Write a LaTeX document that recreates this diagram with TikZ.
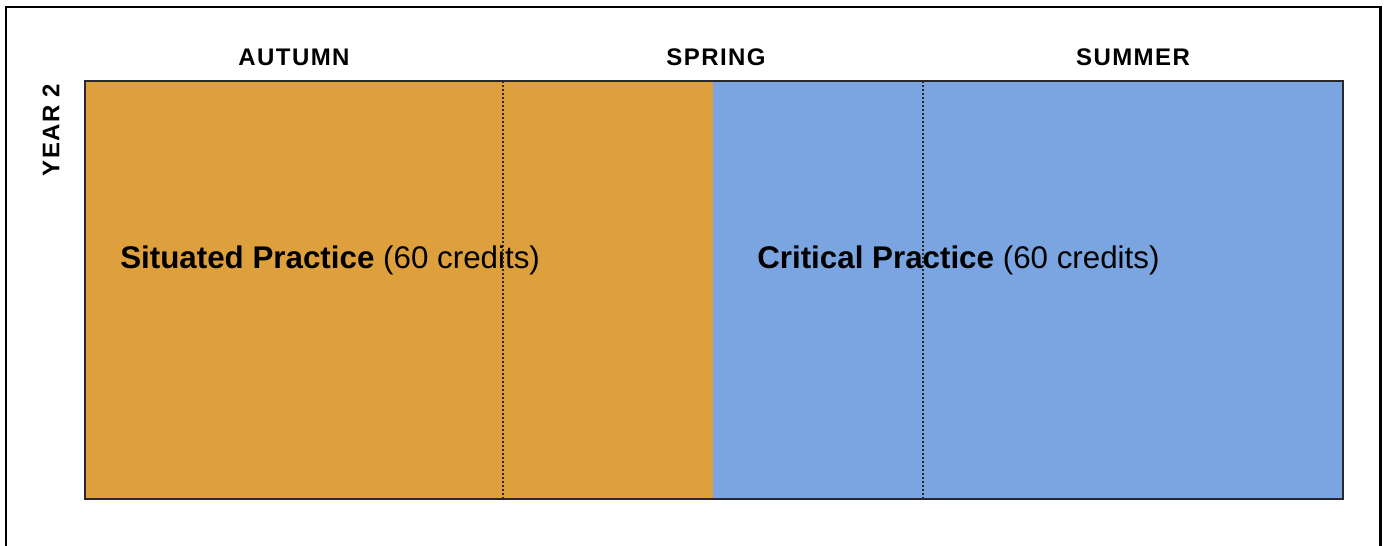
\documentclass[tikz,border=0pt]{standalone}
\usepackage{fontspec}
\setmainfont{Liberation Sans}
\definecolor{orangefill}{RGB}{221,160,61}
\definecolor{bluefill}{RGB}{122,165,224}
\definecolor{edgec}{RGB}{40,40,45}
\begin{document}
\begin{tikzpicture}[x=0.75pt,y=-0.75pt,
  block/.style={draw=none, inner sep=0pt, outer sep=0pt, anchor=north west, minimum height=313.5pt},
  season/.style={font=\fontsize{18}{21}\selectfont\bfseries\addfontfeature{LetterSpace=6}, inner sep=0pt},
  modtext/.style={font=\fontsize{23.5}{28}\selectfont, anchor=west, inner sep=0pt},
  divider/.style={dash pattern=on 1.8pt off 1.2pt, line width=0.9pt, draw=edgec}]
\useasboundingbox (0,0) rectangle (1385,546);
\begin{scope}
\clip (0,0) rectangle (1385,546);
\draw[line width=1.6pt] (6,7) rectangle (1380.5,570);
\end{scope}
% blocks
\node[block, fill=orangefill, minimum width=471pt] (sit) at (85,81) {};
\node[block, fill=bluefill, minimum width=472.5pt] (crit) at (713,81) {};
\draw[line width=1.8pt, draw=edgec] (sit.north west) rectangle (crit.south east);
% labels
\node[season] (autumn) at (294,57) {AUTUMN};
\node[season] (spring) at (716,57) {SPRING};
\node[season] (summer) at (1133,57) {SUMMER};
\node[season, rotate=90] (year) at (51,130) {YEAR 2};
\node[modtext] (sittext) at (120,260) {\textbf{Situated Practice} (60 credits)};
\node[modtext] (crittext) at (757,260) {\textbf{Critical Practice} (60 credits)};
% dividers
\coordinate (d1t) at (503,81); \coordinate (d1b) at (503,499);
\coordinate (d2t) at (923,81); \coordinate (d2b) at (923,499);
\draw[divider] (d1t) -- (d1b);
\draw[divider] (d2t) -- (d2b);
\end{tikzpicture}
\end{document}
